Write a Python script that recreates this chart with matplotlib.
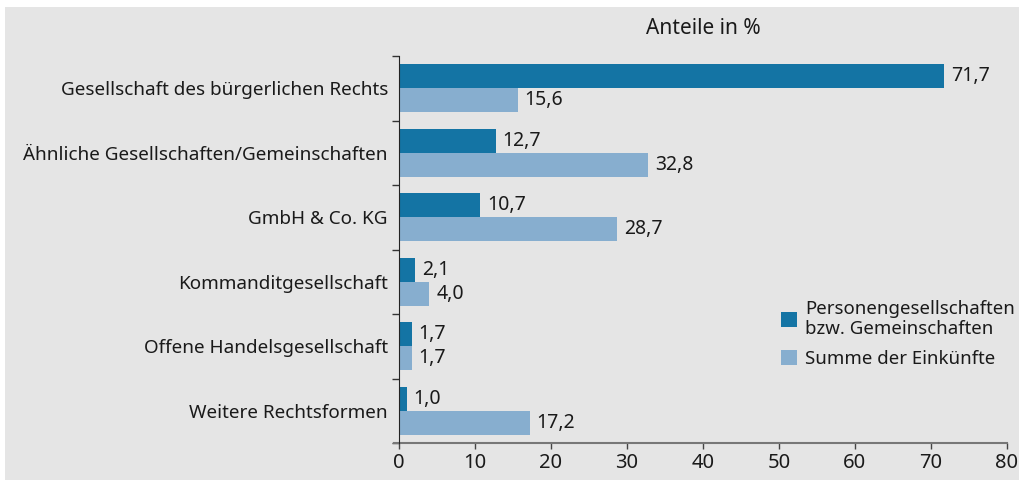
import matplotlib.pyplot as plt
import numpy as np
from matplotlib.patches import Rectangle

# Daten
kategorien = ['Gesellschaft des bürgerlichen Rechts',
              'Ähnliche Gesellschaften/Gemeinschaften',
              'GmbH & Co. KG',
              'Kommanditgesellschaft',
              'Offene Handelsgesellschaft',
              'Weitere Rechtsformen']
personengesellschaften = [71.7, 12.7, 10.7, 2.1, 1.7, 1.0]
einkuenfte = [15.6, 32.8, 28.7, 4.0, 1.7, 17.2]
legende = ['Personengesellschaften\nbzw. Gemeinschaften', 'Summe der Einkünfte']

dunkel = '#1474a4'
hell = '#87aecf'
grau = '#e5e5e5'
text = '#1a1a1a'

plt.rcParams['font.family'] = ['Noto Sans', 'DejaVu Sans']
plt.rcParams['font.size'] = 14

fig = plt.figure(figsize=(10.2, 4.8), dpi=100, facecolor='white')
fig.patches.append(Rectangle((5 / 1020, 0), 1, 1 - 7 / 480, transform=fig.transFigure,
                             facecolor=grau, edgecolor='none', zorder=-10))
ax = fig.add_axes([399 / 1020, 1 - 443 / 480, (1007 - 399) / 1020, (443 - 56) / 480])
ax.set_facecolor(grau)

y = np.arange(len(kategorien))
h = 0.375
b1 = ax.barh(y - h / 2, personengesellschaften, height=h, color=dunkel, label=legende[0])
b2 = ax.barh(y + h / 2, einkuenfte, height=h, color=hell, label=legende[1])

for bars, werte in [(b1, personengesellschaften), (b2, einkuenfte)]:
    for bar, w in zip(bars, werte):
        ax.text(bar.get_width() + 0.9, bar.get_y() + bar.get_height() / 2,
                f'{w:.1f}'.replace('.', ','), va='center', ha='left', color=text, fontsize=14)

ax.set_xlim(0, 80)
ax.set_ylim(len(kategorien) - 0.5, -0.5)
ax.set_xticks(np.arange(0, 81, 10))
ax.set_yticks(y)
ax.set_yticklabels(kategorien, color=text)
ax.set_yticks(np.arange(-0.5, len(kategorien)), minor=True)
ax.tick_params(axis='y', which='major', length=0, pad=8, labelsize=13.6)
ax.tick_params(axis='y', which='minor', length=5, width=1, color='#333333')
ax.tick_params(axis='x', length=4, width=1, color='#444444', labelcolor=text, labelsize=14.5, pad=3)

for s in ['top', 'right']:
    ax.spines[s].set_visible(False)
ax.spines['left'].set_color('#222222')
ax.spines['bottom'].set_color('#777777')
ax.spines['bottom'].set_linewidth(1.5)
ax.spines['bottom'].set_bounds(-0.65, 80)
ax.spines['left'].set_zorder(5)

fig.text(703 / 1020, 1 - 29 / 480, 'Anteile in %', ha='center', va='center', color=text, fontsize=15)

leg = ax.legend(loc='upper left', bbox_to_anchor=(0.628, 0.37), frameon=False,
                handlelength=0.85, handleheight=0.85, handletextpad=0.45, labelspacing=0.65,
                fontsize=13.4, borderpad=0, borderaxespad=0)
for t in leg.get_texts():
    t.set_color(text)
    t.set_linespacing(1.15)

fig.savefig('out.png', dpi=100, facecolor='white')
